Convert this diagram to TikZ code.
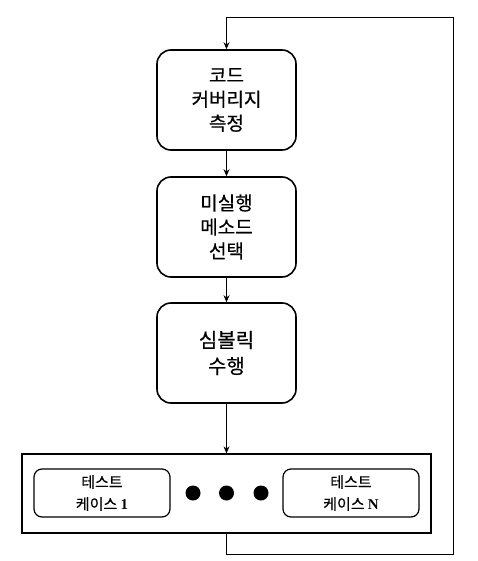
\documentclass[tikz,border=0pt]{standalone}
\usepackage{fontspec}
\setmainfont{Liberation Serif}
\newfontfamily\kr[FakeBold=0.4]{Noto Sans CJK KR}
\usetikzlibrary{arrows.meta}
\begin{document}
\begin{tikzpicture}[x=1pt,y=-1pt,
  stepbox/.style={draw, line width=1.6pt, rounded corners=14pt, minimum width=139pt, minimum height=100pt, align=center, font=\kr\fontsize{19}{24}\selectfont, inner sep=0pt},
  casebox/.style={draw, line width=1.2pt, rounded corners=8pt, minimum width=136pt, minimum height=48pt, align=center, font=\kr\fontsize{15}{22}\selectfont, inner sep=0pt},
  conn/.style={line width=0.8pt, -{Stealth[length=7pt,width=6pt]}},
  dot/.style={circle, fill=black, minimum size=15pt, inner sep=0pt}]
\useasboundingbox (0,0) rectangle (477,561);
\node[stepbox] (b1) at (226.5,100) {코드\\커버리지\\측정};
\node[stepbox] (b2) at (226.5,227) {미실행\\메소드\\선택};
\node[stepbox, font=\kr\fontsize{20}{26}\selectfont] (b3) at (226.5,353) {심볼릭\\수행};
\node[draw, line width=1.3pt, minimum width=409pt, minimum height=79pt, inner sep=0pt] (big) at (226.5,493.5) {};
\node[casebox] (c1) at (102,493) {테스트\\케이스 {\rmfamily\bfseries 1}};
\node[casebox] (cn) at (351,493) {테스트\\케이스 {\rmfamily\bfseries N}};
\node[dot] (d1) at (193,493) {};
\node[dot] (d2) at (226.5,493) {};
\node[dot] (d3) at (261,493) {};
\coordinate (lb) at (226.5,554);
\coordinate (rb) at (453,554);
\coordinate (rt) at (453,17);
\coordinate (lt) at (226.5,17);
\draw[conn] (b1) -- (b2);
\draw[conn] (b2) -- (b3);
\draw[conn] (b3) -- (big);
\draw[conn] (big.south) -- (lb) -- (rb) -- (rt) -- (lt) -- (b1.north);
\end{tikzpicture}
\end{document}
